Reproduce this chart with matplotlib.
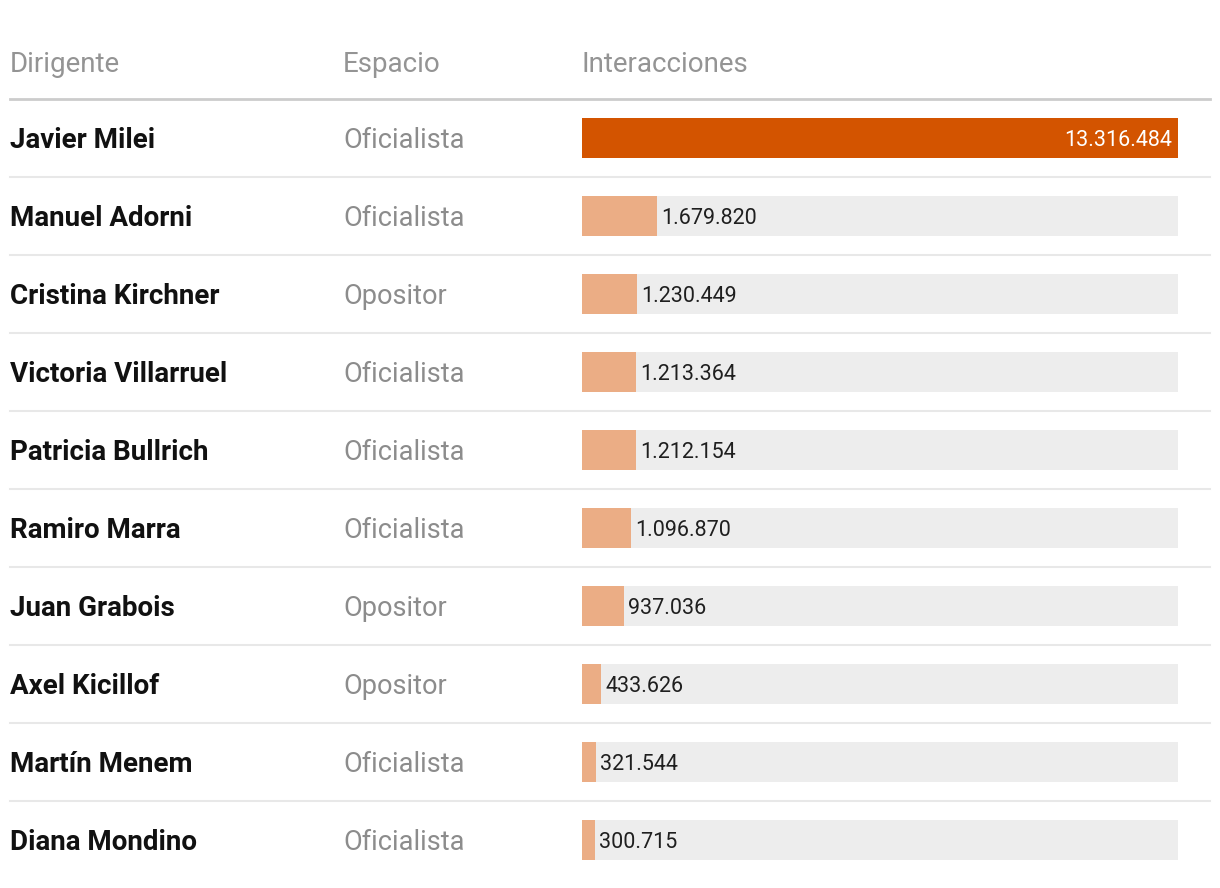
import matplotlib
matplotlib.use("Agg")
import matplotlib.pyplot as plt
import matplotlib.transforms as mtransforms
from matplotlib import font_manager

# datos de la tabla
dirigentes = ["Javier Milei", "Manuel Adorni", "Cristina Kirchner", "Victoria Villarruel",
              "Patricia Bullrich", "Ramiro Marra", "Juan Grabois", "Axel Kicillof",
              "Martín Menem", "Diana Mondino"]
espacios = ["Oficialista", "Oficialista", "Opositor", "Oficialista", "Oficialista",
            "Oficialista", "Opositor", "Opositor", "Oficialista", "Oficialista"]
interacciones = [13316484, 1679820, 1230449, 1213364, 1212154,
                 1096870, 937036, 433626, 321544, 300715]
encabezados = ["Dirigente", "Espacio", "Interacciones"]

fuentes = {f.name for f in font_manager.fontManager.ttflist}
fam = "Roboto" if "Roboto" in fuentes else "DejaVu Sans"

def etiqueta(v):
    return f"{v:,}".replace(",", ".")

W, H = 1220, 888
fig = plt.figure(figsize=(W / 100, H / 100), dpi=100)

# ejes de las barras: x 582..1178 px, filas entre y=99 y y=879 px
ax = fig.add_axes([582 / W, (H - 879) / H, 596 / W, 780 / H])
n = len(dirigentes)
vmax = max(interacciones)
ax.set_xlim(0, vmax)
ax.set_ylim(n - 0.5, -0.5)
ax.axis("off")

filas = list(range(n))
alto = 40 / 78
ax.barh(filas[1:], [vmax] * (n - 1), height=alto, color="#ededed", zorder=1)
colores = ["#d35400"] + ["#ebad85"] * (n - 1)
ax.barh(filas, interacciones, height=alto, color=colores, zorder=2)

tr = mtransforms.blended_transform_factory(fig.transFigure, ax.transData)
px = lambda p: p / W
dy = 2 / 78  # pequeño ajuste vertical del texto

for i, (nom, esp, v) in enumerate(zip(dirigentes, espacios, interacciones)):
    ax.text(px(10), i + dy, nom, transform=tr, ha="left", va="center",
            fontsize=20, fontweight="bold", family=fam, color="#111111")
    ax.text(px(343), i + dy, esp, transform=tr, ha="left", va="center",
            fontsize=19.5, fontweight="normal", family=fam, color="#8c8c8c")
    if i == 0:
        ax.annotate(etiqueta(v), (v, i + dy), xytext=(-6, 0), textcoords="offset pixels",
                    ha="right", va="center", fontsize=15.5, fontweight="normal",
                    family=fam, color="white", zorder=3)
    else:
        ax.annotate(etiqueta(v), (v, i + dy), xytext=(4, 0), textcoords="offset pixels",
                    ha="left", va="center", fontsize=15.5, fontweight="normal",
                    family=fam, color="#1f1f1f", zorder=3)
    if i < n - 1:
        ax.plot([px(10), px(1210)], [i + 0.5, i + 0.5], transform=tr,
                color="#e8e8e8", lw=1.5, clip_on=False, zorder=0)

# encabezado
ax.plot([px(10), px(1210)], [-0.5, -0.5], transform=tr,
        color="#cccccc", lw=2, clip_on=False)
y_enc = -0.5 - 34 / 78
for x, t in zip([10, 343, 582], encabezados):
    ax.text(px(x), y_enc, t, transform=tr, ha="left", va="center",
            fontsize=20, fontweight="normal", family=fam, color="#949494")

fig.savefig("out.png", dpi=100, facecolor="white")
